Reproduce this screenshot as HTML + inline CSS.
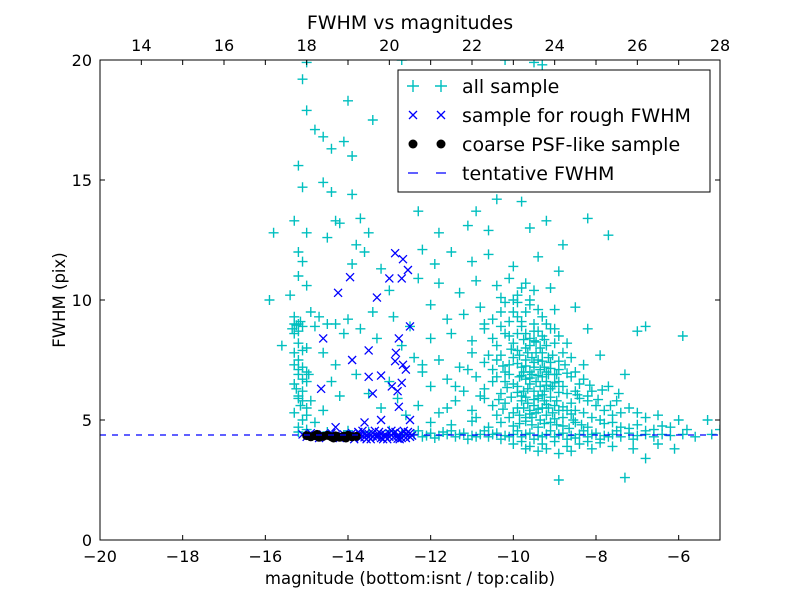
<!DOCTYPE html>
<html><head><meta charset="utf-8"><style>
body{margin:0;background:#fff;}
svg text{font-family:"DejaVu Sans","Liberation Sans",sans-serif;}
</style></head><body>
<svg id="chart" width="800" height="600" xmlns="http://www.w3.org/2000/svg">
<rect width="800" height="600" fill="#fff"/>
<g id="marks"></g>
<g id="axes"></g>
</svg>
<script>
const xTicks=[-20,-18,-16,-14,-12,-10,-8,-6];
const xTickLabels=["\u221220","\u221218","\u221216","\u221214","\u221212","\u221210","\u22128","\u22126"];
const topTicks=[14,16,18,20,22,24,26,28];
const yTicks=[0,5,10,15,20];
const tentativeFwhm=4.375;
const allSample=[
[-15.1,19.2],[-15.0,19.9],[-15.0,17.9],[-14.8,17.1],[-14.6,16.8],[-14.4,16.3],[-14.0,18.3],[-13.9,16.0],[-14.1,16.6],[-15.2,15.6],[-15.1,14.7],[-14.6,14.9],[-14.4,14.5],[-13.9,14.4],[-15.3,13.3],[-15.0,12.8],[-14.3,13.3],[-14.2,13.2],[-13.7,13.4],[-13.4,17.5],[-13.5,12.8],[-13.8,12.3],[-14.5,12.6],[-15.8,12.8],[-15.2,12.0],[-15.1,11.6],[-12.7,20.0],[-12.3,13.7],[-11.8,12.8],[-11.1,13.1],[-10.9,13.7],[-10.4,14.2],[-10.0,15.4],[-9.8,14.1],[-9.2,13.3],[-9.0,15.0],[-8.8,12.3],[-8.2,13.4],[-7.7,12.7],[-10.2,20.0],[-9.5,19.9],[-9.3,19.8],[-10.3,16.6],[-11.5,16.3],[-9.9,17.8],[-10.6,12.9],[-9.6,13.0],[-11.5,12.0],[-8.9,11.2],[-6.8,8.9],[-7.0,8.7],[-5.9,8.5],
[-15.3,9.0],[-15.2,9.0],[-15.1,8.9],[-15.3,8.6],[-15.2,8.2],[-15.0,8.0],[-15.3,7.8],[-15.2,7.5],[-15.1,7.2],[-15.2,6.9],[-15.0,6.6],[-15.3,6.5],[-15.1,6.2],[-15.2,6.0],[-15.1,5.8],[-15.0,5.5],[-15.1,5.0],[-15.2,4.7],[-15.6,8.1],[-15.9,10.0],[-15.4,10.2],[-15.0,10.6],[-15.2,11.0],[-14.9,9.5],[-14.7,9.3],[-14.5,9.0],[-14.8,8.9],[-14.3,9.0],[-14.6,7.8],[-14.3,7.3],[-14.1,8.6],[-14.0,9.2],[-13.9,11.5],[-13.6,12.0],[-13.2,11.3],[-13.0,10.4],[-13.4,9.5],[-13.7,8.8],[-13.3,8.4],[-12.9,9.3],[-12.7,8.1],[-12.4,7.6],[-12.2,7.3],[-12.5,8.9],[-12.3,10.9],[-12.2,12.1],[-11.9,11.5],[-11.8,10.7],[-12.0,9.8],[-14.4,6.6],[-14.2,6.0],[-13.8,6.9],[-13.5,6.1],[-13.0,6.6],[-12.8,5.9],[-12.6,5.2],[-13.2,5.5],[-14.6,5.4],[-14.8,4.9],[-15.0,4.6],[-15.3,9.3],[-15.2,8.7],[-15.1,7.9],[-15.0,7.0],[-15.3,5.3],
[-15.25,8.95],[-15.15,9.1],[-15.35,8.8],[-15.2,7.1],[-15.25,6.3],[-15.15,5.6],[-15.2,5.9],[-15.1,6.7],[-15.3,7.3],[-15.0,5.2],[-14.9,5.8],[-14.95,6.9],
[-10.4,10.6],[-10.1,10.9],[-9.9,10.2],[-9.7,10.7],[-9.5,10.4],[-10.9,10.8],[-11.3,10.3],[-9.1,10.5],[-10.0,11.4],[-10.6,11.9],[-11.0,11.6],[-9.4,11.8],
[-11.2,9.4],[-10.8,9.7],[-10.5,9.2],[-10.2,9.9],[-10.0,9.5],[-9.8,9.1],[-9.6,9.8],[-9.3,9.3],[-9.0,9.6],[-11.6,9.2],[-8.5,9.7],[-10.7,9.0],[-9.9,9.9],
[-11.5,8.6],[-11.0,8.3],[-10.7,8.8],[-10.4,8.1],[-10.2,8.6],[-10.0,8.2],[-9.8,8.9],[-9.6,8.4],[-9.4,8.7],[-9.2,8.1],[-8.9,8.5],[-8.7,8.2],[-12.0,8.4],[-8.2,8.8],[-10.1,8.5],[-9.7,8.0],[-9.5,8.3],
[-11.8,7.5],[-11.3,7.2],[-11.0,7.8],[-10.7,7.4],[-10.5,7.1],[-10.3,7.7],[-10.1,7.3],[-9.9,7.9],[-9.7,7.5],[-9.5,7.2],[-9.3,7.8],[-9.1,7.4],[-8.9,7.1],[-8.6,7.6],[-8.3,7.3],[-7.9,7.7],[-12.2,7.0],[-10.0,7.6],[-9.6,7.0],[-9.4,7.5],[-9.8,7.2],[-9.2,7.0],[-10.4,7.5],
[-12.0,6.4],[-11.6,6.7],[-11.2,6.2],[-10.9,6.8],[-10.7,6.3],[-10.5,6.6],[-10.3,6.1],[-10.1,6.9],[-9.9,6.4],[-9.7,6.7],[-9.5,6.2],[-9.3,6.8],[-9.1,6.3],[-8.9,6.6],[-8.7,6.1],[-8.4,6.5],[-8.1,6.2],[-7.7,6.4],[-7.3,6.9],[-10.0,6.5],[-9.6,6.5],[-9.4,6.0],[-9.0,6.9],[-9.8,6.0],[-10.2,6.6],[-9.2,6.6],[-8.8,6.4],
[-12.3,5.6],[-11.8,5.3],[-11.4,5.8],[-11.0,5.4],[-10.7,5.9],[-10.4,5.2],[-10.2,5.7],[-10.0,5.3],[-9.8,5.8],[-9.6,5.4],[-9.4,5.9],[-9.2,5.2],[-9.0,5.6],[-8.8,5.1],[-8.6,5.7],[-8.3,5.3],[-8.0,5.6],[-7.6,5.2],[-7.2,5.5],[-6.8,5.1],[-9.7,5.1],[-9.3,5.5],[-9.9,5.5],[-8.9,5.4],[-9.5,5.6],[-10.1,5.1],[-8.5,5.4],[-7.9,5.0],[-7.4,5.3],[-6.5,5.2],
[-10.3,10.1],[-10.0,10.0],[-9.8,10.5],[-9.6,10.0],[-9.9,9.3],[-9.7,9.5],[-9.5,9.0],[-9.4,9.6],[-10.3,9.5],[-10.1,9.1],[-9.2,9.0],[-9.0,8.8],
[-10.3,8.9],[-9.9,8.6],[-9.7,8.6],[-9.5,8.7],[-9.3,8.5],[-9.1,8.8],[-9.0,8.2],[-9.6,8.1],[-10.5,8.4],[-9.35,8.0],
[-10.2,7.0],[-9.85,7.7],[-9.65,7.8],[-9.45,7.8],[-9.25,7.2],[-9.05,7.7],[-8.8,7.8],[-8.75,7.3],[-9.55,7.6],[-9.75,7.0],[-9.35,7.1],[-9.15,7.6],[-8.5,7.0],[-10.6,7.7],[-11.1,7.1],
[-9.85,6.8],[-9.65,6.3],[-9.45,6.6],[-9.25,6.2],[-9.05,6.4],[-8.95,6.9],[-8.6,6.8],[-8.5,6.2],[-9.55,6.9],[-9.35,6.4],[-9.15,6.9],[-9.75,6.2],[-8.3,6.7],[-8.2,6.0],[-10.4,6.8],[-10.8,6.0],[-11.4,6.4],
[-9.85,5.2],[-9.65,5.7],[-9.45,5.3],[-9.25,5.8],[-9.05,5.3],[-8.95,5.8],[-8.7,5.4],[-8.55,5.0],[-9.55,5.1],[-9.35,5.0],[-9.15,5.5],[-9.75,5.5],[-8.2,5.8],[-8.1,5.1],[-7.8,5.4],[-7.5,5.8],[-7.0,5.3],[-10.5,5.6],[-10.9,5.1],[-11.6,5.5],
[-9.9,7.35],[-9.7,7.25],[-9.5,7.4],[-9.3,7.45],[-9.1,7.15],[-9.8,6.85],[-9.6,6.75],[-9.4,6.85],[-9.2,6.45],[-9.0,6.55],[-9.9,6.15],[-9.7,5.95],[-9.5,5.85],[-9.3,6.05],[-9.1,5.95],[-8.9,6.15],[-8.8,5.55],[-9.6,5.25],[-9.4,5.45],[-9.2,5.65],[-9.0,5.05],[-8.6,5.25],[-8.4,5.9],[-8.9,7.45],[-8.7,6.95],[-9.45,8.25],[-9.75,8.35],[-9.25,8.35],[-10.05,7.95],[-10.25,7.25],[-10.15,6.35],[-10.35,5.85],[-10.05,5.95],[-10.25,5.45],[-8.45,6.05],[-8.15,6.45],[-7.95,5.85],[-7.85,6.25],[-7.45,6.1],[-7.65,5.6],
[-12.0,4.9],[-11.5,4.8],[-11.0,4.95],[-10.6,4.7],[-10.3,4.9],[-10.0,4.75],[-9.7,4.95],[-9.4,4.7],[-9.1,4.9],[-8.8,4.75],[-8.5,4.9],[-8.2,4.7],[-7.8,4.85],[-7.4,4.7],[-7.0,4.8],[-6.6,4.6],[-6.2,4.7],[-5.8,4.6],[-5.3,5.0],[-5.0,4.6],[-6.0,5.0],
[-9.85,4.85],[-9.55,4.8],[-9.25,4.85],[-8.95,4.8],[-8.65,4.65],[-8.35,4.8],[-7.6,4.9],[-7.2,4.65],[-6.8,4.55],[-6.4,4.75],
[-12.4,4.4],[-12.2,4.3],[-12.0,4.45],[-11.8,4.35],[-11.6,4.4],[-11.4,4.3],[-11.2,4.45],[-11.0,4.35],[-10.8,4.4],[-10.6,4.3],[-10.4,4.45],[-10.2,4.35],[-10.0,4.4],[-9.8,4.3],[-9.6,4.45],[-9.4,4.35],[-9.2,4.4],[-9.0,4.3],[-8.8,4.45],[-8.6,4.35],[-8.4,4.4],[-8.2,4.3],[-8.0,4.45],[-7.8,4.35],[-7.6,4.4],[-7.4,4.3],[-7.2,4.45],[-7.0,4.35],[-6.8,4.4],[-6.6,4.3],[-6.4,4.4],[-6.2,4.35],[-5.9,4.4],[-5.6,4.3],[-5.2,4.4],
[-12.3,4.55],[-11.9,4.25],[-11.5,4.55],[-11.1,4.2],[-10.7,4.55],[-10.3,4.2],[-9.9,4.55],[-9.5,4.2],[-9.1,4.55],[-8.7,4.2],[-8.3,4.55],[-7.9,4.2],[-7.5,4.55],[-7.1,4.2],
[-12.1,4.35],[-11.7,4.5],[-11.3,4.4],[-10.9,4.3],[-10.5,4.4],[-10.1,4.3],[-9.7,4.4],[-9.3,4.3],[-8.9,4.4],[-8.5,4.25],[-8.1,4.4],[-7.7,4.3],
[-10.0,4.0],[-9.6,3.9],[-9.2,3.8],[-8.9,3.6],[-8.7,3.9],[-8.4,4.0],[-9.4,3.7],[-9.8,4.1],[-8.1,3.8],[-7.6,3.9],[-7.1,3.8],[-6.8,3.4],[-6.1,3.8],[-7.3,2.6],[-8.9,2.5],[-9.0,4.1],[-7.9,4.05],[-6.5,4.0],[-9.3,4.0],[-8.6,3.7],[-8.2,4.1],[-9.7,3.8],
[-15.2,4.5],[-15.0,4.4],[-14.5,4.5],[-14.0,4.55],[-13.5,4.5],[-13.0,4.55],[-12.7,4.4]
];
const roughSample=[
[-12.86,11.95],[-12.67,11.7],[-12.55,11.25],[-13.95,10.95],[-13.0,10.9],[-12.7,10.9],[-14.24,10.3],[-13.3,10.1],[-12.5,8.9],[-14.6,8.4],[-12.77,8.4],[-13.5,7.9],[-12.84,7.8],[-13.9,7.5],[-12.86,7.45],[-12.67,7.3],[-12.6,7.1],[-13.5,6.8],[-13.2,6.85],[-12.7,6.55],[-12.94,6.4],[-14.65,6.3],[-12.8,6.2],[-13.4,6.1],[-12.77,5.55],[-12.5,5.0],[-13.2,5.0],[-13.6,4.9],[-14.3,4.7],
[-15.1,4.4],[-15.0,4.3],[-14.9,4.45],[-14.8,4.35],[-14.7,4.25],[-14.6,4.4],[-14.5,4.3],[-14.4,4.45],[-14.3,4.35],[-14.2,4.25],[-14.1,4.4],[-14.0,4.3],[-13.9,4.45],[-13.8,4.35],[-13.7,4.25],[-13.6,4.4],[-13.5,4.3],[-13.4,4.45],[-13.3,4.35],[-13.2,4.25],[-13.1,4.4],[-13.0,4.3],[-12.9,4.45],[-12.8,4.35],[-12.7,4.25],[-12.6,4.4],[-12.5,4.3],
[-13.75,4.5],[-13.55,4.2],[-13.35,4.55],[-13.15,4.2],[-12.95,4.55],[-12.75,4.2],[-12.55,4.5],[-13.85,4.2],[-13.65,4.55],[-13.45,4.2],[-13.25,4.5],[-13.05,4.2],[-12.85,4.5],[-12.65,4.55],
[-13.7,4.38],[-13.5,4.42],[-13.3,4.28],[-13.1,4.32],[-12.9,4.28],[-12.7,4.42],[-12.5,4.45],[-13.6,4.28],[-13.4,4.32],[-13.2,4.42],[-13.0,4.45],[-12.8,4.22],[-12.6,4.25],[-12.45,4.35]
];
const psfSample=[
[-15.0,4.35],[-14.9,4.3],[-14.8,4.35],[-14.7,4.28],[-14.6,4.32],[-14.5,4.36],[-14.4,4.3],[-14.3,4.34],[-14.2,4.28],[-14.1,4.33],[-14.0,4.36],[-13.9,4.3],[-13.8,4.32],[-14.75,4.4],[-14.35,4.25],[-14.05,4.25]
];
const L=100,R=720,T=60,B=540;
function sx(v){return L+(v+20)/15*(R-L);}
function sy(v){return B-v/20*(B-T);}
function stx(v){return sx(v-33);}
const NS="http://www.w3.org/2000/svg";
function mk(tag,attrs,parent){const e=document.createElementNS(NS,tag);for(const k in attrs)e.setAttribute(k,attrs[k]);parent.appendChild(e);return e;}
const marks=document.getElementById('marks');
const axes=document.getElementById('axes');
const clip=mk('clipPath',{id:'pc'},marks);mk('rect',{x:L,y:T,width:R-L,height:B-T},clip);
const gAll=mk('g',{'clip-path':'url(#pc)',stroke:'#00bfbf','stroke-width':1.4},marks);


allSample.forEach(p=>{const x=sx(p[0]),y=sy(p[1]);
 const e=mk('path',{d:`M${x-5},${y}H${x+5}M${x},${y-5}V${y+5}`},gAll);
 
 });
const gR=mk('g',{'clip-path':'url(#pc)',stroke:'#0000ff','stroke-width':1.3},marks);


roughSample.forEach(p=>{const x=sx(p[0]),y=sy(p[1]);
 const e=mk('path',{d:`M${x-4},${y-4}L${x+4},${y+4}M${x-4},${y+4}L${x+4},${y-4}`},gR);
 
 });
const gP=mk('g',{fill:'#000'},marks);


psfSample.forEach(p=>{const e=mk('circle',{cx:sx(p[0]),cy:sy(p[1]),r:4.5},gP);
 
 });
const dl=mk('line',{x1:L,x2:R,y1:sy(tentativeFwhm),y2:sy(tentativeFwhm),stroke:'#0000ff','stroke-width':1.2,'stroke-dasharray':'6,6'},marks);


const fr=mk('rect',{x:L,y:T,width:R-L,height:B-T,fill:'none',stroke:'#000','stroke-width':1},axes);


xTicks.forEach((v,i)=>{const x=sx(v);
 mk('line',{x1:x,x2:x,y1:B,y2:B-5,stroke:'#000'},axes);mk('line',{x1:x,x2:x,y1:T,y2:T+5,stroke:'#000'},axes);
 const t=mk('text',{x:x,y:B+22,'text-anchor':'middle','font-size':16},axes);t.textContent=xTickLabels[i];
 
 });
topTicks.forEach(v=>{const x=stx(v);
 mk('line',{x1:x,x2:x,y1:T,y2:T+5,stroke:'#000'},axes);
 const t=mk('text',{x:x,y:T-9,'text-anchor':'middle','font-size':16},axes);t.textContent=v;
 
 });
yTicks.forEach(v=>{const y=sy(v);
 mk('line',{x1:L,x2:L+5,y1:y,y2:y,stroke:'#000'},axes);mk('line',{x1:R,x2:R-5,y1:y,y2:y,stroke:'#000'},axes);
 const t=mk('text',{x:L-8,y:y+6,'text-anchor':'end','font-size':16},axes);t.textContent=v;
 
 });
</script>
<svg style="position:absolute;left:0;top:0" width="800" height="600">
<text x="410" y="29" text-anchor="middle" font-size="19">FWHM vs magnitudes</text>
<text x="410" y="584" text-anchor="middle" font-size="16.5">magnitude (bottom:isnt / top:calib)</text>
<text x="0" y="0" transform="translate(65,300) rotate(-90)" text-anchor="middle" font-size="16.5">FWHM (pix)</text>
<g>
<rect x="398" y="70" width="312" height="122" fill="#fff" stroke="#000"/>
<g><path d="M407,86H419M413,80V92M435,86H447M441,80V92" stroke="#00bfbf" stroke-width="1.4"/><text x="462" y="93" font-size="19">all sample</text></g>
<g><path d="M409,111L417,119M409,119L417,111M437,111L445,119M437,119L445,111" stroke="#0000ff" stroke-width="1.3"/><text x="462" y="122" font-size="19">sample for rough FWHM</text></g>
<g><circle cx="413" cy="144" r="4.5"/><circle cx="441" cy="144" r="4.5"/><text x="462" y="151" font-size="19">coarse PSF-like sample</text></g>
<g><path d="M408,173H418M436,173H446" stroke="#0000ff" stroke-width="1.2"/><text x="462" y="180" font-size="19">tentative FWHM</text></g>
</g>
</svg>
</body></html>
